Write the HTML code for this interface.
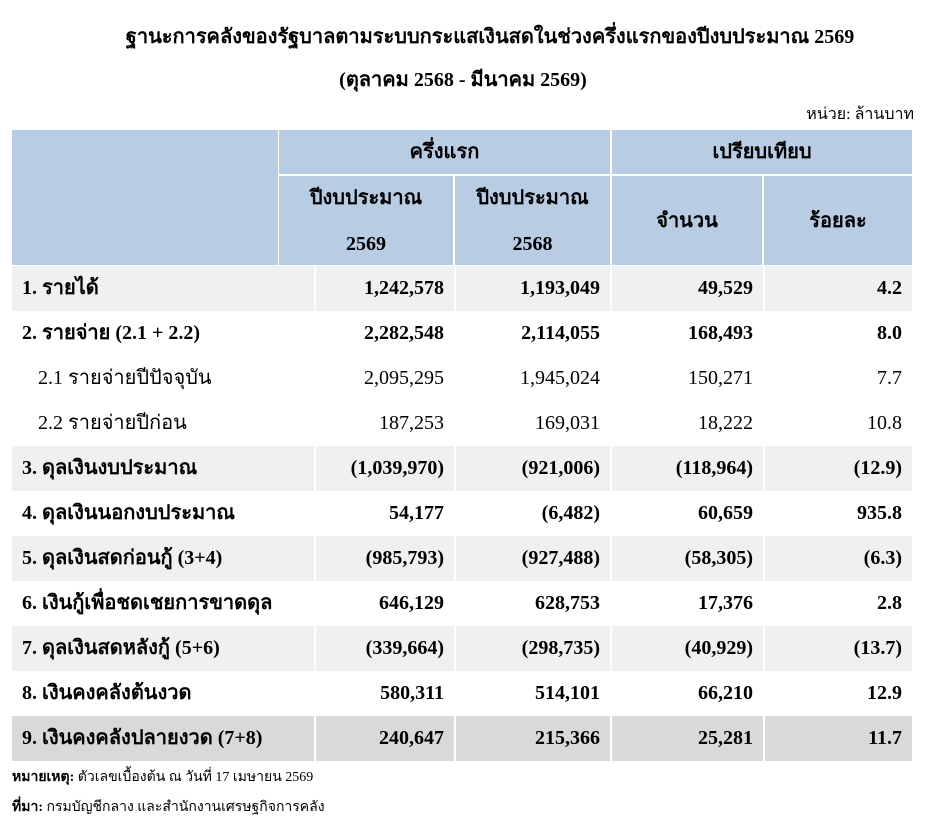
<!DOCTYPE html>
<html><head><meta charset="utf-8"><style>
body{margin:0;width:946px;height:823px;background:#fff;font-family:"Liberation Serif","DejaVu Serif",serif;color:#000;position:relative;overflow:hidden}
.a{position:absolute;box-sizing:border-box}
.h{background:#b8cce4;font-weight:bold;font-size:20px;display:flex;align-items:center;justify-content:center;text-align:center;line-height:46px}
.r{position:absolute;left:12px;width:900px;height:45px}
.c{position:absolute;top:0;height:45px;line-height:45px;font-size:20px;font-weight:bold;box-sizing:border-box;border-left:2px solid #fff}
.n{text-align:right;padding-right:10px}
.l{left:0;width:302px;padding-left:10px;border-left:none}
.c2{left:302px;width:140px}.c3{left:442px;width:156px}.c4{left:598px;width:153px}.c5{left:751px;width:149px}
.g{background:#f0f0f0}.d{background:#d9d9d9}
.p .c{font-weight:normal}
</style></head><body>
<div class="a" style="left:0;width:980px;top:20px;text-align:center;font-weight:bold;font-size:20px">ฐานะการคลังของรัฐบาลตามระบบกระแสเงินสดในช่วงครึ่งแรกของปีงบประมาณ 2569</div>
<div class="a" style="left:0;width:926px;top:63px;text-align:center;font-weight:bold;font-size:20px">(ตุลาคม 2568 - มีนาคม 2569)</div>
<div class="a" style="right:32px;top:102px;font-size:16px">หน่วย: ล้านบาท</div>
<div class="a h" style="left:12px;top:130px;width:266px;height:135px"></div>
<div class="a h" style="left:279px;top:130px;width:331px;height:44px">ครึ่งแรก</div>
<div class="a h" style="left:612px;top:130px;width:300px;height:44px">เปรียบเทียบ</div>
<div class="a h" style="left:279px;top:176px;width:174px;height:89px">ปีงบประมาณ<br>2569</div>
<div class="a h" style="left:455px;top:176px;width:155px;height:89px">ปีงบประมาณ<br>2568</div>
<div class="a h" style="left:612px;top:176px;width:150px;height:89px">จำนวน</div>
<div class="a h" style="left:764px;top:176px;width:148px;height:89px">ร้อยละ</div>

<div class="r g" style="top:266px"><div class="c l">1. รายได้</div><div class="c n c2">1,242,578</div><div class="c n c3">1,193,049</div><div class="c n c4">49,529</div><div class="c n c5">4.2</div></div>
<div class="r" style="top:311px"><div class="c l">2. รายจ่าย (2.1 + 2.2)</div><div class="c n c2">2,282,548</div><div class="c n c3">2,114,055</div><div class="c n c4">168,493</div><div class="c n c5">8.0</div></div>
<div class="r p" style="top:356px"><div class="c l" style="padding-left:26px">2.1 รายจ่ายปีปัจจุบัน</div><div class="c n c2">2,095,295</div><div class="c n c3">1,945,024</div><div class="c n c4">150,271</div><div class="c n c5">7.7</div></div>
<div class="r p" style="top:401px"><div class="c l" style="padding-left:26px">2.2 รายจ่ายปีก่อน</div><div class="c n c2">187,253</div><div class="c n c3">169,031</div><div class="c n c4">18,222</div><div class="c n c5">10.8</div></div>
<div class="r g" style="top:446px"><div class="c l">3. ดุลเงินงบประมาณ</div><div class="c n c2">(1,039,970)</div><div class="c n c3">(921,006)</div><div class="c n c4">(118,964)</div><div class="c n c5">(12.9)</div></div>
<div class="r" style="top:491px"><div class="c l">4. ดุลเงินนอกงบประมาณ</div><div class="c n c2">54,177</div><div class="c n c3">(6,482)</div><div class="c n c4">60,659</div><div class="c n c5">935.8</div></div>
<div class="r g" style="top:536px"><div class="c l">5. ดุลเงินสดก่อนกู้ (3+4)</div><div class="c n c2">(985,793)</div><div class="c n c3">(927,488)</div><div class="c n c4">(58,305)</div><div class="c n c5">(6.3)</div></div>
<div class="r" style="top:581px"><div class="c l">6. เงินกู้เพื่อชดเชยการขาดดุล</div><div class="c n c2">646,129</div><div class="c n c3">628,753</div><div class="c n c4">17,376</div><div class="c n c5">2.8</div></div>
<div class="r g" style="top:626px"><div class="c l">7. ดุลเงินสดหลังกู้ (5+6)</div><div class="c n c2">(339,664)</div><div class="c n c3">(298,735)</div><div class="c n c4">(40,929)</div><div class="c n c5">(13.7)</div></div>
<div class="r" style="top:671px"><div class="c l">8. เงินคงคลังต้นงวด</div><div class="c n c2">580,311</div><div class="c n c3">514,101</div><div class="c n c4">66,210</div><div class="c n c5">12.9</div></div>
<div class="r d" style="top:716px"><div class="c l">9. เงินคงคลังปลายงวด (7+8)</div><div class="c n c2">240,647</div><div class="c n c3">215,366</div><div class="c n c4">25,281</div><div class="c n c5">11.7</div></div>

<div class="a" style="left:12px;top:766px;font-size:14px"><b>หมายเหตุ:</b> ตัวเลขเบื้องต้น ณ วันที่ 17 เมษายน 2569</div>
<div class="a" style="left:12px;top:796px;font-size:14px"><b>ที่มา:</b> กรมบัญชีกลาง และสำนักงานเศรษฐกิจการคลัง</div>
</body></html>
